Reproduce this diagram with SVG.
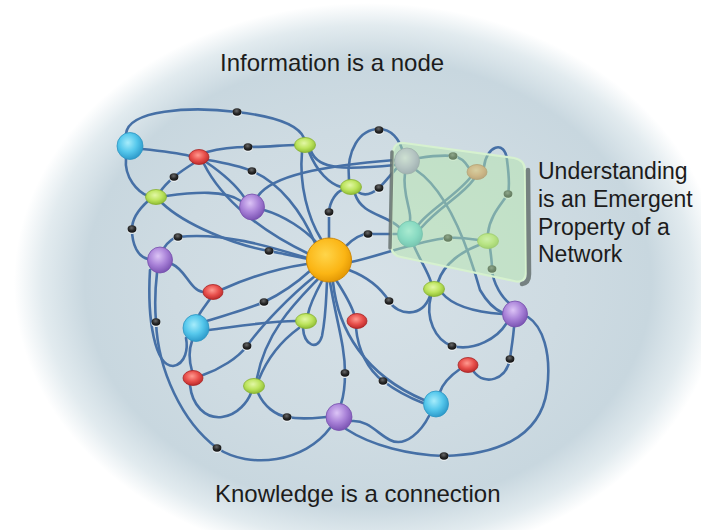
<svg xmlns="http://www.w3.org/2000/svg" xmlns:xlink="http://www.w3.org/1999/xlink" width="701" height="530" viewBox="0 0 701 530">
<defs>
<radialGradient id="bg" cx="0.5" cy="0.5" r="0.5">
<stop offset="0" stop-color="#d6e1e7"/>
<stop offset="0.55" stop-color="#cedbe2"/>
<stop offset="0.8" stop-color="#c8d7df"/>
<stop offset="0.92" stop-color="#e2ebef"/>
<stop offset="1" stop-color="#ffffff"/>
</radialGradient>
<radialGradient id="gCyan" cx="0.42" cy="0.38" r="0.62">
<stop offset="0" stop-color="#a6ecfb"/><stop offset="0.55" stop-color="#56c8ec"/><stop offset="1" stop-color="#2e9ccc"/>
</radialGradient>
<radialGradient id="gPurple" cx="0.42" cy="0.35" r="0.65">
<stop offset="0" stop-color="#dcc4f6"/><stop offset="0.55" stop-color="#a982d8"/><stop offset="1" stop-color="#7c55b4"/>
</radialGradient>
<radialGradient id="gGreen" cx="0.45" cy="0.38" r="0.62">
<stop offset="0" stop-color="#e2f7a6"/><stop offset="0.55" stop-color="#bde45e"/><stop offset="1" stop-color="#8fbd34"/>
</radialGradient>
<radialGradient id="gRed" cx="0.45" cy="0.38" r="0.62">
<stop offset="0" stop-color="#ff9a90"/><stop offset="0.55" stop-color="#e8504c"/><stop offset="1" stop-color="#bb2a2a"/>
</radialGradient>
<radialGradient id="gOrange" cx="0.42" cy="0.38" r="0.62">
<stop offset="0" stop-color="#ffd54a"/><stop offset="0.7" stop-color="#fbb514"/><stop offset="1" stop-color="#e59a05"/>
</radialGradient>
<radialGradient id="gLav" cx="0.42" cy="0.38" r="0.62">
<stop offset="0" stop-color="#e6dcf6"/><stop offset="0.6" stop-color="#b6a6d8"/><stop offset="1" stop-color="#8e7eb8"/>
</radialGradient>
<radialGradient id="gSalmon" cx="0.45" cy="0.38" r="0.62">
<stop offset="0" stop-color="#f8b894"/><stop offset="0.6" stop-color="#e38a62"/><stop offset="1" stop-color="#c0674a"/>
</radialGradient>
<radialGradient id="gTeal" cx="0.45" cy="0.38" r="0.62">
<stop offset="0" stop-color="#9ef0f4"/><stop offset="0.6" stop-color="#5ccfd6"/><stop offset="1" stop-color="#3aa6b4"/>
</radialGradient>
<radialGradient id="gDot" cx="0.45" cy="0.35" r="0.6">
<stop offset="0" stop-color="#6a6a6a"/><stop offset="0.6" stop-color="#2a2a2a"/><stop offset="1" stop-color="#151515"/>
</radialGradient>
<g id="dotShape">
<ellipse cx="0" cy="1.4" rx="4.6" ry="3.6" fill="#e8eef2"/>
<ellipse cx="0" cy="0" rx="4.4" ry="3.7" fill="url(#gDot)"/>
</g>
<style>
.edge{fill:none;stroke:#4670a6;stroke-width:2.6;stroke-linecap:round}
.big{stroke-width:0.8}
.cyan{fill:url(#gCyan);stroke:#2f95c2}
.purple{fill:url(#gPurple);stroke:#7650ac}
.green{fill:url(#gGreen);stroke:#86b030;stroke-width:0.8}
.red{fill:url(#gRed);stroke:#a82424;stroke-width:0.8}
.lav{fill:url(#gLav);stroke:#867ca8}
.salmon{fill:url(#gSalmon);stroke:#b0603e;stroke-width:0.8}
.teal{fill:url(#gTeal);stroke:#3aa0ac}
.lbl{font-family:"Liberation Sans",Arial,Helvetica,sans-serif;fill:#1c1c1c}
</style>
</defs>

<rect x="0" y="0" width="701" height="530" fill="#ffffff"/>
<ellipse cx="368" cy="283" rx="354" ry="280" fill="url(#bg)"/>

<g id="connectors">
<path class="edge" d="M126,134 C128,110 190,106 237,112 C272,116 298,124 304,138"/>
<path class="edge" d="M142,149 C162,151 178,153 190,156"/>
<path class="edge" d="M207,152 C222,148 236,147 248,147 C266,147 284,145 296,145"/>
<path class="edge" d="M194,163 C186,168 180,172 174,177 C167,183 162,189 160,192"/>
<path class="edge" d="M126,158 C124,178 138,192 148,196"/>
<path class="edge" d="M148,201 C138,210 132,220 132,229 C132,245 138,257 148,259"/>
<path class="edge" d="M166,196 C195,192 225,190 241,201"/>
<path class="edge" d="M162,203 C185,225 235,245 269,251 C285,254 298,257 308,259"/>
<path class="edge" d="M208,160 C225,163 240,166 252,171 C280,183 302,212 315,243"/>
<path class="edge" d="M204,164 C222,200 262,232 309,254"/>
<path class="edge" d="M206,162 C225,175 238,188 244,197"/>
<path class="edge" d="M264,210 C285,216 305,230 316,242"/>
<path class="edge" d="M258,196 C272,176 320,166 395,160"/>
<path class="edge" d="M302,152 C299,185 308,218 321,239"/>
<path class="edge" d="M311,151 C318,170 345,170 395,165"/>
<path class="edge" d="M309,152 C317,172 330,184 341,187"/>
<path class="edge" d="M349,180 C346,150 360,129 379,129 C392,129 399,140 402,149"/>
<path class="edge" d="M358,192 C365,197 373,193 379,188 C386,181 392,173 397,168"/>
<path class="edge" d="M355,194 C362,215 385,214 399,227"/>
<path class="edge" d="M329,238 C329,228 329,220 329,212 C330,200 337,192 342,190"/>
<path class="edge" d="M346,246 C353,239 360,234 368,234 C380,234 390,234 397,234"/>
<path class="edge" d="M351,262 C380,256 420,240 448,238 C462,237 471,239 478,240"/>
<path class="edge" d="M405,173 C402,195 412,210 410,221"/>
<path class="edge" d="M470,178 C455,196 430,210 419,224"/>
<path class="edge" d="M421,228 C440,206 462,196 474,179"/>
<path class="edge" d="M419,158 C432,156 442,155 453,156 C461,157 466,163 469,168"/>
<path class="edge" d="M484,167 C486,146 505,139 507,160 C509,175 510,185 508,194 C500,206 490,216 488,233"/>
<path class="edge" d="M416,170 C446,190 466,240 480,290 C488,304 496,310 503,313"/>
<path class="edge" d="M490,248 C491,255 492,262 492,269 C493,285 503,298 509,303"/>
<path class="edge" d="M479,245 C463,251 444,263 438,282"/>
<path class="edge" d="M414,246 C420,260 428,272 431,282"/>
<path class="edge" d="M349,270 C370,278 382,290 389,301 C398,316 422,318 430,296"/>
<path class="edge" d="M431,296 C425,318 435,340 452,346 C475,352 498,337 506,324"/>
<path class="edge" d="M442,293 C456,310 488,313 502,314"/>
<path class="edge" d="M514,327 C513,340 511,350 510,359 C506,380 485,386 474,372"/>
<path class="edge" d="M460,369 C447,378 442,386 440,392"/>
<path class="edge" d="M333,282 C338,330 365,375 424,400"/>
<path class="edge" d="M330,282 C336,320 345,345 345,373 C345,390 343,398 341,404"/>
<path class="edge" d="M336,280 C345,294 351,304 354,314"/>
<path class="edge" d="M322,281 C315,294 310,304 308,314"/>
<path class="edge" d="M303,328 C304,346 318,351 322,336 C326,316 326,300 327,282"/>
<path class="edge" d="M209,330 C240,326 270,321 296,321"/>
<path class="edge" d="M207,321 C230,314 250,308 264,302 C285,292 300,280 311,270"/>
<path class="edge" d="M223,289 C250,277 280,268 307,264"/>
<path class="edge" d="M172,264 C186,270 190,290 203,292"/>
<path class="edge" d="M210,299 C205,306 201,311 199,315"/>
<path class="edge" d="M157,273 C155,290 155,310 156,322 C158,370 182,422 217,448 C250,470 305,462 330,428"/>
<path class="edge" d="M150,270 C147,320 155,366 173,366 C186,364 188,348 186,338"/>
<path class="edge" d="M346,429 C372,446 410,455 444,456 C492,455 540,440 547,390 C552,352 542,326 528,317"/>
<path class="edge" d="M352,421 C368,420 378,434 390,440 C406,448 422,430 429,416"/>
<path class="edge" d="M258,393 C264,406 275,415 287,417 C303,420 315,418 326,417"/>
<path class="edge" d="M257,378 C266,330 298,300 318,279"/>
<path class="edge" d="M259,379 C270,352 288,336 299,328"/>
<path class="edge" d="M203,375 C220,369 238,358 247,346 C262,325 290,296 315,276"/>
<path class="edge" d="M190,385 C192,405 205,419 222,417 C238,415 248,401 251,393"/>
<path class="edge" d="M356,328 C358,350 368,370 383,381 C395,390 410,398 423,403"/>
<path class="edge" d="M164,248 C168,242 172,238 178,237 C222,232 268,246 307,258"/>
<path class="edge" d="M192,341 C188,352 190,364 192,371"/>
</g>

<g id="d1"><use xlink:href="#dotShape" x="237" y="112"/></g>
<g id="d2"><use xlink:href="#dotShape" x="248" y="147"/></g>
<g id="d3"><use xlink:href="#dotShape" x="252" y="171"/></g>
<g id="d4"><use xlink:href="#dotShape" x="174" y="177"/></g>
<g id="d5"><use xlink:href="#dotShape" x="379" y="130"/></g>
<g id="d6"><use xlink:href="#dotShape" x="379" y="188"/></g>
<g id="d7"><use xlink:href="#dotShape" x="329" y="212"/></g>
<g id="d8"><use xlink:href="#dotShape" x="132" y="229"/></g>
<g id="d9"><use xlink:href="#dotShape" x="178" y="237"/></g>
<g id="d10"><use xlink:href="#dotShape" x="269" y="251"/></g>
<g id="d11"><use xlink:href="#dotShape" x="368" y="234"/></g>
<g id="d12"><use xlink:href="#dotShape" x="453" y="156"/></g>
<g id="d13"><use xlink:href="#dotShape" x="508" y="194"/></g>
<g id="d14"><use xlink:href="#dotShape" x="448" y="238"/></g>
<g id="d15"><use xlink:href="#dotShape" x="492" y="269"/></g>
<g id="d16"><use xlink:href="#dotShape" x="389" y="301"/></g>
<g id="d17"><use xlink:href="#dotShape" x="264" y="302"/></g>
<g id="d18"><use xlink:href="#dotShape" x="156" y="322"/></g>
<g id="d19"><use xlink:href="#dotShape" x="247" y="346"/></g>
<g id="d20"><use xlink:href="#dotShape" x="345" y="373"/></g>
<g id="d21"><use xlink:href="#dotShape" x="383" y="381"/></g>
<g id="d22"><use xlink:href="#dotShape" x="452" y="346"/></g>
<g id="d23"><use xlink:href="#dotShape" x="510" y="359"/></g>
<g id="d24"><use xlink:href="#dotShape" x="287" y="417"/></g>
<g id="d25"><use xlink:href="#dotShape" x="217" y="448"/></g>
<g id="d26"><use xlink:href="#dotShape" x="444" y="456"/></g>

<g id="C1"><ellipse class="cyan big" cx="130" cy="146" rx="13" ry="13.5"/></g>
<g id="C2"><ellipse class="cyan big" cx="196" cy="328" rx="13" ry="13.5"/></g>
<g id="C3"><ellipse class="cyan big" cx="436" cy="404" rx="12.5" ry="13"/></g>
<g id="P1"><ellipse class="purple big" cx="252" cy="207" rx="12.5" ry="13"/></g>
<g id="P2"><ellipse class="purple big" cx="160" cy="260" rx="12.5" ry="13"/></g>
<g id="P3"><ellipse class="purple big" cx="339" cy="417" rx="13" ry="13.5"/></g>
<g id="P4"><ellipse class="purple big" cx="515" cy="314" rx="12.5" ry="13"/></g>
<g id="L1"><ellipse class="lav big" cx="407" cy="161" rx="12.5" ry="13"/></g>
<g id="T1"><ellipse class="teal big" cx="410" cy="234" rx="12.5" ry="13"/></g>
<g id="G1"><ellipse class="green" cx="305" cy="145" rx="10.5" ry="7.5"/></g>
<g id="G2"><ellipse class="green" cx="156" cy="197" rx="10.5" ry="7.5"/></g>
<g id="G3"><ellipse class="green" cx="351" cy="187" rx="10.5" ry="7.5"/></g>
<g id="G4"><ellipse class="green" cx="488" cy="241" rx="10.5" ry="7.5"/></g>
<g id="G5"><ellipse class="green" cx="434" cy="289" rx="10.5" ry="7.5"/></g>
<g id="G6"><ellipse class="green" cx="306" cy="321" rx="10.5" ry="7.5"/></g>
<g id="G7"><ellipse class="green" cx="254" cy="386" rx="10.5" ry="7.5"/></g>
<g id="R1"><ellipse class="red" cx="199" cy="157" rx="10" ry="7.5"/></g>
<g id="R2"><ellipse class="red" cx="213" cy="292" rx="10" ry="7.5"/></g>
<g id="R3"><ellipse class="red" cx="357" cy="321" rx="10" ry="7.5"/></g>
<g id="R4"><ellipse class="red" cx="193" cy="378" rx="10" ry="7.5"/></g>
<g id="R5"><ellipse class="red" cx="468" cy="365" rx="10" ry="7.5"/></g>
<g id="S1"><ellipse class="salmon" cx="477" cy="172" rx="10" ry="7.5"/></g>
<g id="O"><ellipse cx="329" cy="260" rx="22.5" ry="22" fill="url(#gOrange)" stroke="#d08a08" stroke-width="1"/></g>

<g id="glass">
<path d="M404,143 L514,158 Q525,160 525,171 L526,271 Q526,284 514,281 L401,257 Q391,255 391,245 L393,153 Q394,142 404,143 Z" fill="#b6e6ae" fill-opacity="0.5" stroke="#d6f1cf" stroke-width="2.2"/>
<path d="M392,152 L390,248" fill="none" stroke="#5f6a68" stroke-width="3.5" stroke-linecap="round" opacity="0.8"/>
<path d="M528,170 L529,274 Q529,283 522,284" fill="none" stroke="#5f6a68" stroke-width="4.5" stroke-linecap="round" opacity="0.8"/>
</g>

<g id="texts">
<text class="lbl" x="220" y="71" font-size="24">Information is a node</text>
<text class="lbl" x="215" y="502" font-size="24">Knowledge is a connection</text>
<text class="lbl" x="538" y="179" font-size="23">Understanding</text>
<text class="lbl" x="538" y="207" font-size="23">is an Emergent</text>
<text class="lbl" x="538" y="234.5" font-size="23">Property of a</text>
<text class="lbl" x="538" y="262" font-size="23">Network</text>
</g>
</svg>
